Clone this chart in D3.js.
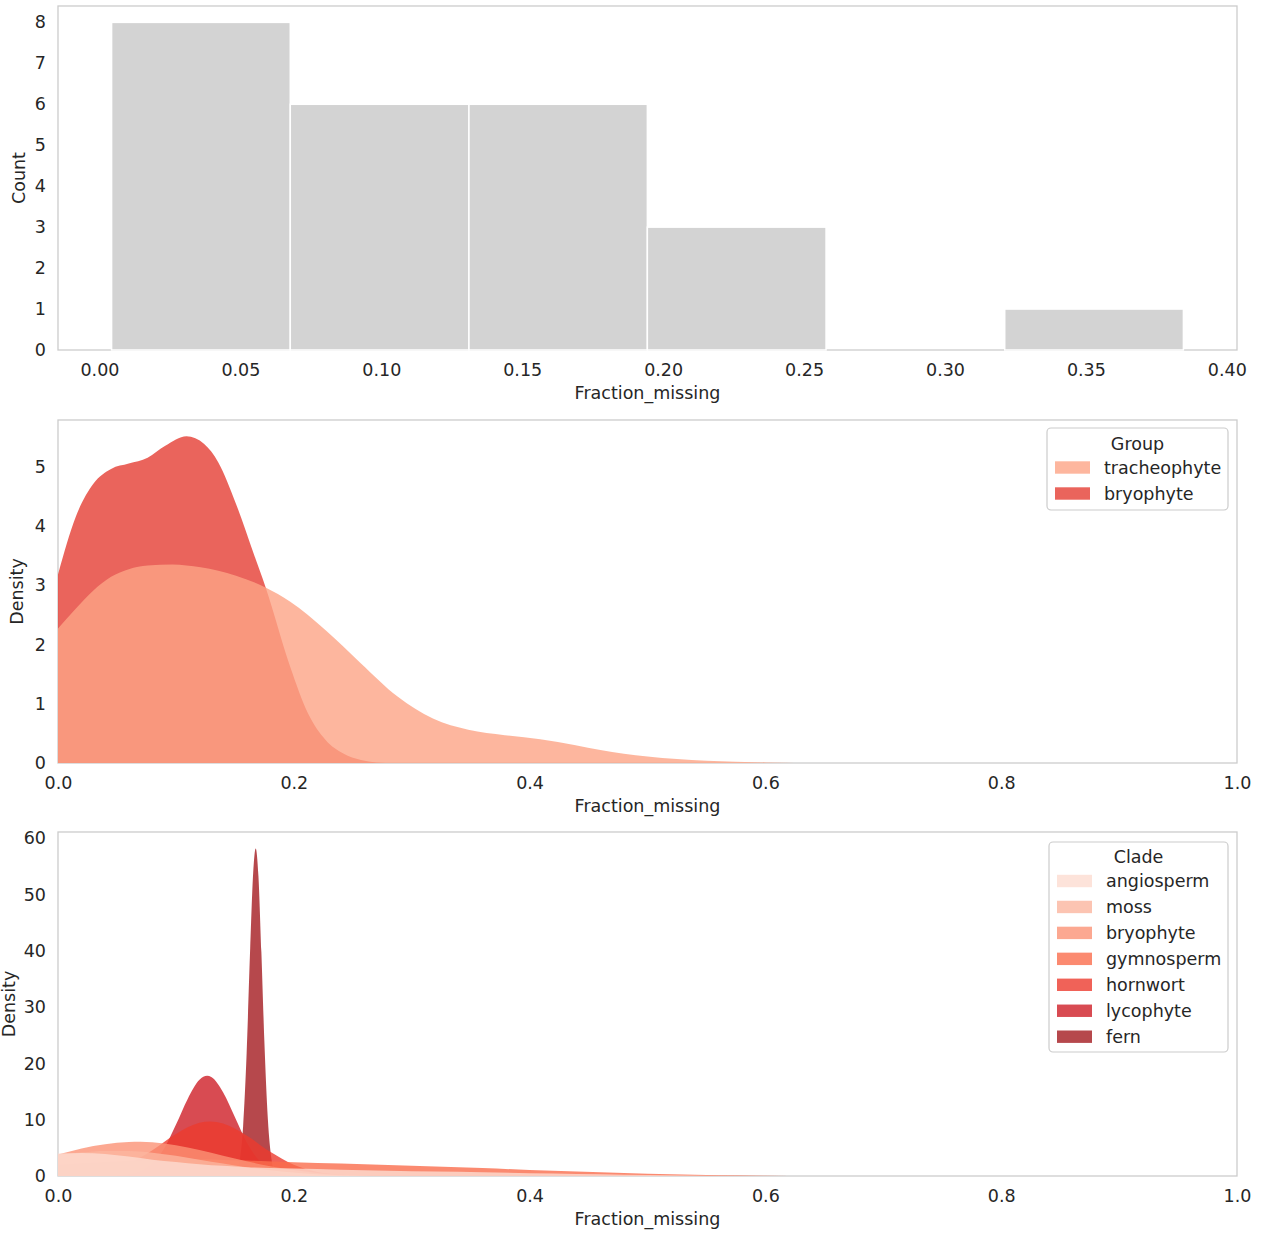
<!DOCTYPE html>
<html>
<head>
<meta charset="utf-8">
<script src="https://cdn.jsdelivr.net/npm/d3@7"></script>
<style>
  body { margin: 0; background: #ffffff; }
  svg { display: block; }
</style>
</head>
<body>
<svg id="chart" width="1261" height="1234"></svg>
<script>
// ---------- Histogram of Fraction_missing ----------
const binEdges = [0.0043, 0.0677, 0.1311, 0.1944, 0.2578, 0.3212, 0.3846];
const binCounts = [8, 6, 6, 3, 0, 1];
const histXTicks = [0.00, 0.05, 0.10, 0.15, 0.20, 0.25, 0.30, 0.35, 0.40];
const histYTicks = [0, 1, 2, 3, 4, 5, 6, 7, 8];

// ---------- Density by Group ([Fraction_missing, density]) ----------
const groupNames = ["tracheophyte", "bryophyte"];
const groupColors = ["#fca486", "#e53d33"];
const tracheophyteDensity = [
  [0.000, 2.27], [0.015, 2.60], [0.030, 2.91], [0.045, 3.14], [0.060, 3.27],
  [0.076, 3.33], [0.097, 3.35], [0.121, 3.30], [0.151, 3.16], [0.176, 2.96],
  [0.197, 2.72], [0.227, 2.24], [0.257, 1.68], [0.288, 1.12], [0.318, 0.75],
  [0.348, 0.56], [0.379, 0.47], [0.409, 0.40], [0.439, 0.30], [0.460, 0.22],
  [0.500, 0.11], [0.550, 0.04], [0.600, 0.01], [0.650, 0.0]
];
const bryophyteDensity = [
  [0.000, 3.18], [0.015, 4.15], [0.030, 4.71], [0.045, 4.96], [0.060, 5.05],
  [0.076, 5.15], [0.091, 5.35], [0.109, 5.51], [0.124, 5.38], [0.136, 5.07],
  [0.151, 4.37], [0.166, 3.53], [0.176, 2.97], [0.197, 1.62], [0.212, 0.84],
  [0.227, 0.39], [0.242, 0.16], [0.257, 0.05], [0.270, 0.01], [0.285, 0.0]
];
const groupTicksX = [0.0, 0.2, 0.4, 0.6, 0.8, 1.0];
const groupTicksY = [0, 1, 2, 3, 4, 5];

// ---------- Density by Clade ([Fraction_missing, density]) ----------
const cladeNames = ["angiosperm", "moss", "bryophyte", "gymnosperm", "hornwort", "lycophyte", "fern"];
const cladeColors = ["#fddcd1", "#fbb59f", "#fb9276", "#fa6d4c", "#ec3b2e", "#ce1e27", "#a41a1f"];
const angiospermDensity = [
  [0.00, 4.0], [0.02, 4.1], [0.04, 3.9], [0.06, 3.45], [0.08, 2.9], [0.10, 2.5],
  [0.12, 2.1], [0.14, 1.8], [0.16, 1.57], [0.18, 1.43], [0.20, 1.33], [0.24, 1.13],
  [0.28, 0.93], [0.32, 0.78], [0.36, 0.65], [0.40, 0.50], [0.44, 0.37], [0.48, 0.24],
  [0.52, 0.13], [0.56, 0.06], [0.60, 0.015], [0.63, 0.0]
];
const mossDensity = [
  [0.00, 3.7], [0.02, 4.2], [0.04, 4.45], [0.06, 4.45], [0.08, 4.15], [0.10, 3.6],
  [0.12, 2.9], [0.14, 2.2], [0.16, 1.55], [0.18, 1.0], [0.20, 0.6], [0.22, 0.3],
  [0.24, 0.12], [0.26, 0.04], [0.28, 0.0]
];
const bryophyteCladeDensity = [
  [0.00, 3.8], [0.02, 4.9], [0.04, 5.65], [0.06, 6.05], [0.07, 6.1], [0.08, 6.0],
  [0.10, 5.45], [0.12, 4.6], [0.14, 3.6], [0.16, 2.6], [0.18, 1.75], [0.20, 1.05],
  [0.22, 0.55], [0.24, 0.25], [0.26, 0.08], [0.28, 0.02], [0.30, 0.0]
];
const gymnospermDensity = [
  [0.00, 2.0], [0.04, 2.5], [0.08, 2.85], [0.12, 2.95], [0.16, 2.75], [0.20, 2.45],
  [0.24, 2.2], [0.28, 1.97], [0.32, 1.7], [0.36, 1.4], [0.40, 1.08], [0.44, 0.8],
  [0.48, 0.55], [0.52, 0.33], [0.56, 0.15], [0.60, 0.05], [0.64, 0.01], [0.66, 0.0]
];
const hornwortDensity = [
  [0.00, 0.05], [0.02, 0.24], [0.04, 0.82], [0.06, 2.19], [0.08, 4.58], [0.10, 7.46],
  [0.12, 9.46], [0.129, 9.7], [0.14, 9.34], [0.16, 7.19], [0.18, 4.3], [0.20, 2.0],
  [0.22, 0.73], [0.24, 0.21], [0.26, 0.05], [0.28, 0.0]
];
const lycophyteDensity = [
  [0.05, 0.06], [0.06, 0.25], [0.07, 0.83], [0.08, 2.2], [0.09, 4.9], [0.10, 9.1],
  [0.11, 13.7], [0.12, 17.1], [0.1265, 17.8], [0.13, 17.6], [0.14, 14.9], [0.15, 10.5],
  [0.16, 6.0], [0.17, 2.9], [0.18, 1.14], [0.19, 0.37], [0.20, 0.1], [0.21, 0.0]
];
const fernDensity = [
  [0.148, 0.1], [0.151, 0.6], [0.154, 2.6], [0.157, 8.8], [0.160, 21.8], [0.163, 40.4],
  [0.1655, 53.7], [0.1677, 58.2], [0.170, 53.3], [0.1725, 39.8], [0.175, 24.1],
  [0.178, 10.1], [0.181, 3.1], [0.184, 0.7], [0.188, 0.1], [0.191, 0.0]
];
const cladeTicksX = [0.0, 0.2, 0.4, 0.6, 0.8, 1.0];
const cladeTicksY = [0, 10, 20, 30, 40, 50, 60];

// ---------- Layout ----------
const FONT = '"DejaVu Sans", "Liberation Sans", sans-serif';
const FS = 17.5;
const INK = "#262626";
const plotLeft = 58, plotRight = 1237;
const svg = d3.select("#chart");

function drawFrame(top, bottom) {
  svg.append("rect")
    .attr("x", plotLeft).attr("y", top)
    .attr("width", plotRight - plotLeft).attr("height", bottom - top)
    .attr("fill", "none").attr("stroke", "#cccccc").attr("stroke-width", 1.3);
}

function styleAxis(g) {
  g.select(".domain").remove();
  g.attr("font-family", FONT).attr("font-size", FS).style("color", INK);
}

function drawAxes(x, y, top, bottom, xTicks, xFmt, yTicks, yLabel, yLabelX) {
  svg.append("g")
    .attr("transform", `translate(0,${bottom})`)
    .call(d3.axisBottom(x).tickValues(xTicks).tickFormat(xFmt).tickSize(0).tickPadding(14))
    .call(styleAxis);
  svg.append("g")
    .attr("transform", `translate(${plotLeft},0)`)
    .call(d3.axisLeft(y).tickValues(yTicks).tickFormat(d3.format("d")).tickSize(0).tickPadding(12))
    .call(styleAxis);
  svg.append("text")
    .attr("x", (plotLeft + plotRight) / 2).attr("y", bottom + 49)
    .attr("text-anchor", "middle")
    .attr("font-family", FONT).attr("font-size", FS).attr("fill", INK)
    .text("Fraction_missing");
  svg.append("text")
    .attr("transform", `translate(${yLabelX},${(top + bottom) / 2}) rotate(-90)`)
    .attr("text-anchor", "middle")
    .attr("font-family", FONT).attr("font-size", FS).attr("fill", INK)
    .text(yLabel);
}

function clipFor(id, top, bottom) {
  svg.append("defs").append("clipPath").attr("id", id)
    .append("rect")
    .attr("x", plotLeft).attr("y", top)
    .attr("width", plotRight - plotLeft).attr("height", bottom - top);
  return svg.append("g").attr("clip-path", `url(#${id})`);
}

function drawLegend(x0, y0, w, h, title, titleBaseline, names, colors, rowStart, rowStep, patchX, labelX) {
  const g = svg.append("g");
  g.append("rect")
    .attr("x", x0).attr("y", y0).attr("width", w).attr("height", h).attr("rx", 4)
    .attr("fill", "#ffffff").attr("fill-opacity", 0.8)
    .attr("stroke", "#cccccc").attr("stroke-width", 1.2);
  g.append("text")
    .attr("x", x0 + w / 2).attr("y", titleBaseline)
    .attr("text-anchor", "middle")
    .attr("font-family", FONT).attr("font-size", FS).attr("fill", INK)
    .text(title);
  names.forEach((name, i) => {
    const cy = rowStart + i * rowStep;
    g.append("rect")
      .attr("x", patchX).attr("y", cy - 6.2).attr("width", 35).attr("height", 12.4)
      .attr("fill", colors[i]).attr("fill-opacity", 0.8);
    g.append("text")
      .attr("x", labelX).attr("y", cy).attr("dy", "0.35em")
      .attr("font-family", FONT).attr("font-size", FS).attr("fill", INK)
      .text(name);
  });
}

// ---------- Panel 1: histogram ----------
{
  const top = 6, bottom = 350;
  const lo = binEdges[0], hi = binEdges[binEdges.length - 1];
  const pad = 0.05 * (hi - lo);
  const x = d3.scaleLinear().domain([lo - pad, hi + pad]).range([plotLeft, plotRight]);
  const y = d3.scaleLinear().domain([0, d3.max(binCounts) * 1.05]).range([bottom, top]);
  drawFrame(top, bottom);
  const bins = binCounts.map((c, i) => ({ x0: binEdges[i], x1: binEdges[i + 1], count: c }));
  svg.append("g").selectAll("rect")
    .data(bins.filter(b => b.count > 0))
    .join("rect")
    .attr("x", d => x(d.x0)).attr("width", d => x(d.x1) - x(d.x0))
    .attr("y", d => y(d.count)).attr("height", d => y(0) - y(d.count))
    .attr("fill", "#d3d3d3").attr("stroke", "#ffffff").attr("stroke-width", 1.5);
  drawAxes(x, y, top, bottom, histXTicks, d3.format(".2f"), histYTicks, "Count", 24.5);
}

// ---------- Panel 2: density by Group ----------
{
  const top = 420, bottom = 763;
  const series = [tracheophyteDensity, bryophyteDensity];
  const x = d3.scaleLinear().domain([0, 1]).range([plotLeft, plotRight]);
  const ymax = d3.max(series, s => d3.max(s, d => d[1]));
  const y = d3.scaleLinear().domain([0, ymax * 1.05]).range([bottom, top]);
  drawFrame(top, bottom);
  const area = d3.area().x(d => x(d[0])).y0(y(0)).y1(d => y(d[1])).curve(d3.curveMonotoneX);
  const layer = clipFor("clip-group", top, bottom);
  // later hue levels are painted first so the first level sits on top
  for (let i = series.length - 1; i >= 0; i--) {
    layer.append("path").attr("d", area(series[i]))
      .attr("fill", groupColors[i]).attr("fill-opacity", 0.8);
  }
  drawAxes(x, y, top, bottom, groupTicksX, d3.format(".1f"), groupTicksY, "Density", 23);
  drawLegend(1047, 428, 181, 82, "Group", 450, groupNames, groupColors, 467.5, 26, 1055, 1104);
}

// ---------- Panel 3: density by Clade ----------
{
  const top = 832, bottom = 1176;
  const series = [angiospermDensity, mossDensity, bryophyteCladeDensity, gymnospermDensity,
                  hornwortDensity, lycophyteDensity, fernDensity];
  const x = d3.scaleLinear().domain([0, 1]).range([plotLeft, plotRight]);
  const ymax = d3.max(series, s => d3.max(s, d => d[1]));
  const y = d3.scaleLinear().domain([0, ymax * 1.05]).range([bottom, top]);
  drawFrame(top, bottom);
  const area = d3.area().x(d => x(d[0])).y0(y(0)).y1(d => y(d[1])).curve(d3.curveMonotoneX);
  const layer = clipFor("clip-clade", top, bottom);
  for (let i = series.length - 1; i >= 0; i--) {
    layer.append("path").attr("d", area(series[i]))
      .attr("fill", cladeColors[i]).attr("fill-opacity", 0.8);
  }
  drawAxes(x, y, top, bottom, cladeTicksX, d3.format(".1f"), cladeTicksY, "Density", 14.5);
  drawLegend(1049, 842, 179, 210, "Clade", 863, cladeNames, cladeColors, 881, 25.95, 1057, 1106);
}
</script>
</body>
</html>
